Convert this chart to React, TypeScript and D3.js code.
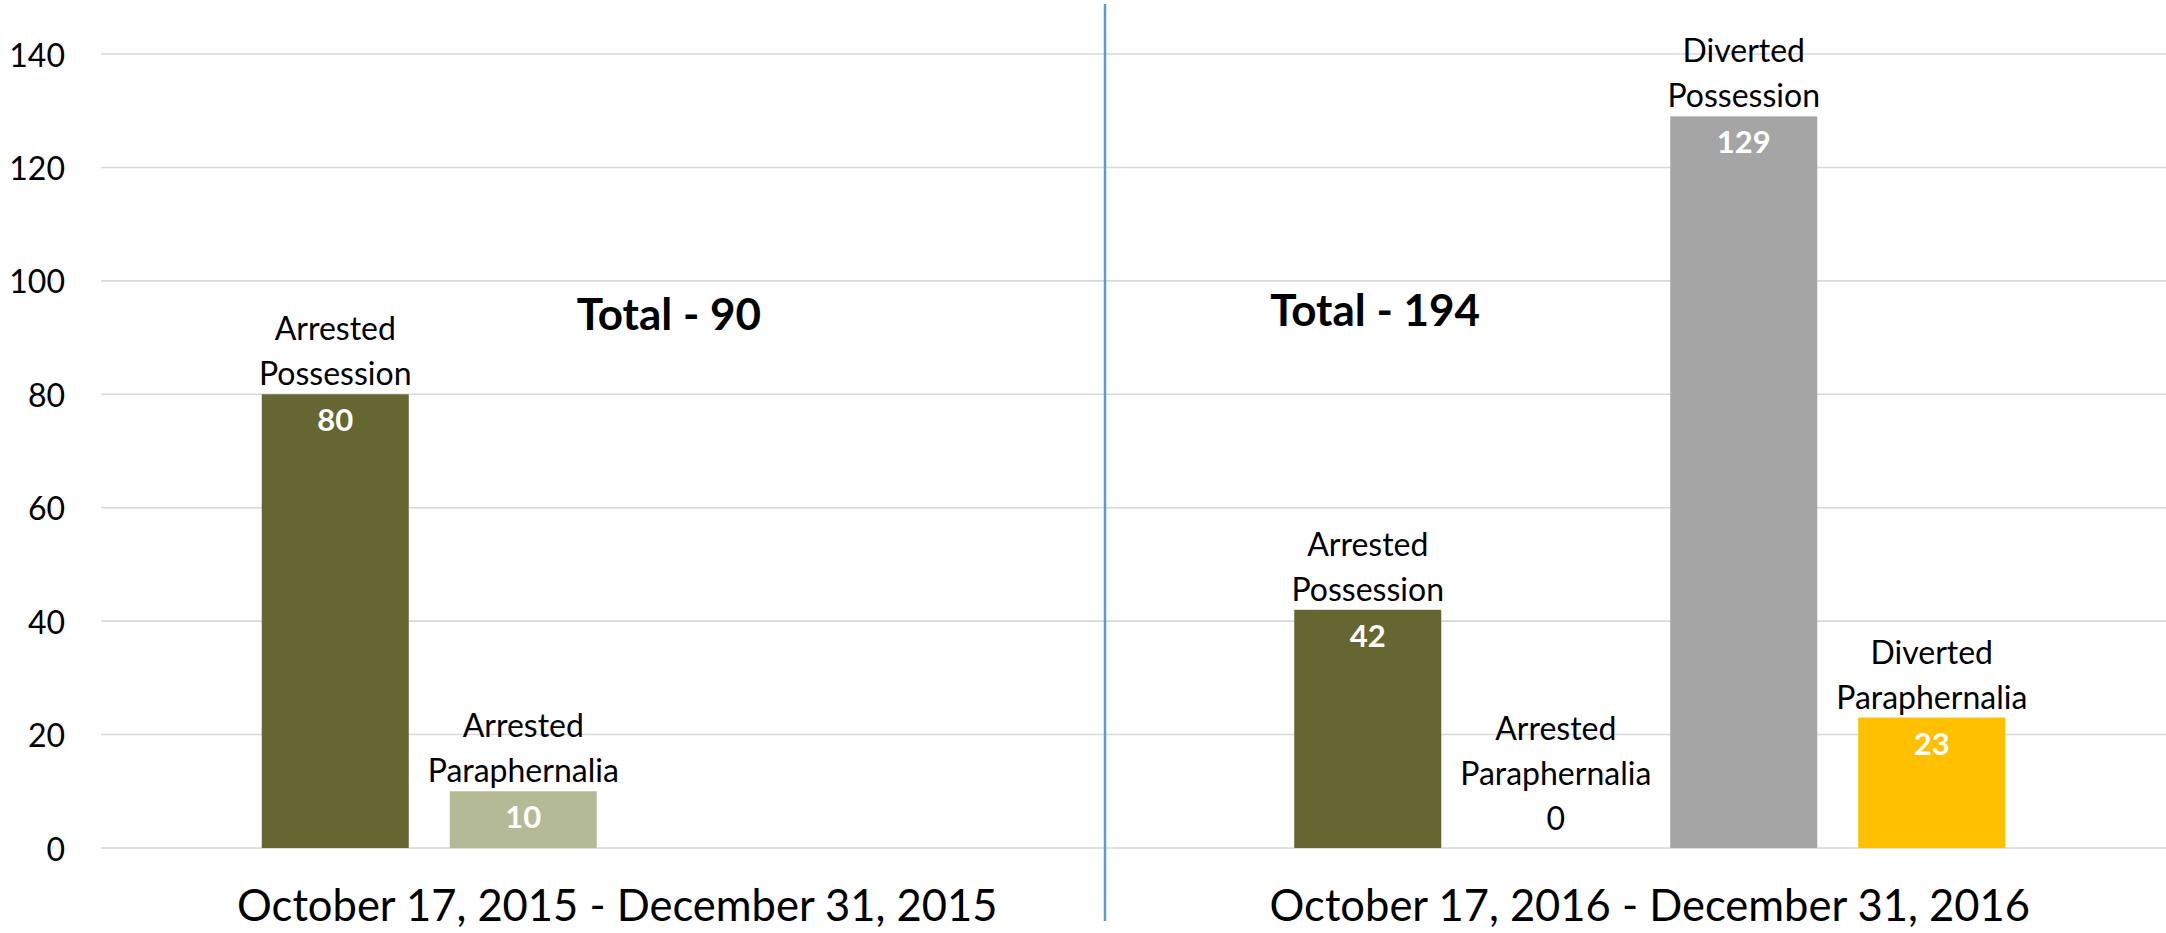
import React, { useEffect, useRef } from 'react'
import * as d3 from 'd3'

const periods = ['October 17, 2015 - December 31, 2015', 'October 17, 2016 - December 31, 2016']
const series = ['Arrested Possession', 'Arrested Paraphernalia', 'Diverted Possession', 'Diverted Paraphernalia']
const values2015: (number | null)[] = [80, 10, null, null]
const values2016: (number | null)[] = [42, 0, 129, 23]
const totals = [90, 194]
const yTicks = [0, 20, 40, 60, 80, 100, 120, 140]
const colors = ['#666633', '#B4BA96', '#A5A5A5', '#FFC000']

// where the hand-placed "Total" boxes and the divider sit, as fractions of a period band
const totalAnchors = [0.55, 0.234]
const dividerFrac = 0.9724

const W = 2166
const H = 933
const margin = { top: 54, right: 0, bottom: 85, left: 101 }
const FONT = 'Lato, "Open Sans", sans-serif'

function App() {
    const ref = useRef<SVGSVGElement>(null)

    useEffect(() => {
        document.body.style.margin = '0'
        const svg = d3.select(ref.current)
        svg.selectAll('*').remove()

        const y = d3.scaleLinear().domain([0, 140]).range([H - margin.bottom, margin.top])
        const x0 = d3.scaleBand<string>().domain(periods).range([margin.left, W - margin.right]).padding(0)
        const x1 = d3.scaleBand<string>().domain(series).range([0, x0.bandwidth()])
            .paddingInner(0.218).paddingOuter(0.855)

        // gridlines
        svg.append('g').selectAll('line').data(yTicks).join('line')
            .attr('x1', margin.left).attr('x2', W - margin.right)
            .attr('y1', d => y(d)).attr('y2', d => y(d))
            .attr('stroke', '#d9d9d9').attr('stroke-width', 1.6)

        // y tick labels
        svg.append('g').selectAll('text').data(yTicks).join('text')
            .attr('x', 65).attr('y', d => y(d))
            .attr('text-anchor', 'end').attr('dominant-baseline', 'central')
            .style('font-family', FONT).style('font-size', '32px').attr('fill', '#000')
            .text(d => d)

        // divider between the two periods
        const dx = x0(periods[0])! + x0.bandwidth() * dividerFrac
        svg.append('line')
            .attr('x1', dx).attr('x2', dx).attr('y1', 4).attr('y2', 921)
            .attr('stroke', '#5B9BD5').attr('stroke-width', 2.5)

        const rows = [values2015, values2016]
        rows.forEach((vals, pi) => {
            const p = periods[pi]
            const g = svg.append('g').attr('transform', `translate(${x0(p)},0)`)
            const data = series.map((s, i) => ({ s, v: vals[i], c: colors[i] }))
                .filter(d => d.v !== null) as { s: string, v: number, c: string }[]

            g.selectAll('rect').data(data).join('rect')
                .attr('x', d => x1(d.s)!)
                .attr('y', d => y(d.v))
                .attr('width', x1.bandwidth())
                .attr('height', d => y(0) - y(d.v))
                .attr('fill', d => d.c)

            // value labels inside bars
            g.selectAll('.val').data(data.filter(d => d.v > 0)).join('text')
                .attr('class', 'val')
                .attr('x', d => x1(d.s)! + x1.bandwidth() / 2)
                .attr('y', d => y(d.v) + 37)
                .attr('text-anchor', 'middle')
                .style('font-family', FONT).style('font-size', '31px').style('font-weight', 700)
                .attr('fill', '#fff')
                .text(d => d.v)

            // series names above bars
            data.forEach(d => {
                const lines = d.s.split(' ')
                if (d.v === 0) lines.push(String(d.v))
                const base = y(d.v) - (d.v === 0 ? 18 : 9)
                const cx = x1(d.s)! + x1.bandwidth() / 2
                lines.forEach((ln, li) => {
                    g.append('text')
                        .attr('x', cx)
                        .attr('y', base - (lines.length - 1 - li) * 45)
                        .attr('text-anchor', 'middle')
                        .style('font-family', FONT).style('font-size', '32px')
                        .attr('fill', '#000')
                        .text(ln)
                })
            })

            // period labels
            svg.append('text')
                .attr('x', x0(p)! + x0.bandwidth() / 2)
                .attr('y', 921)
                .attr('text-anchor', 'middle')
                .style('font-family', FONT).style('font-size', '43.5px')
                .attr('fill', '#000')
                .text(p)

            // totals
            svg.append('text')
                .attr('x', x0(p)! + x0.bandwidth() * totalAnchors[pi])
                .attr('y', y(94) + (pi === 0 ? 15 : 11))
                .attr('text-anchor', 'middle')
                .style('font-family', FONT).style('font-size', '44px').style('font-weight', 700)
                .attr('fill', '#000')
                .text(`Total - ${totals[pi]}`)
        })
    }, [])

    return <svg ref={ref} width={W} height={H} style={{ display: 'block', background: '#fff' }} />
}

export default App
